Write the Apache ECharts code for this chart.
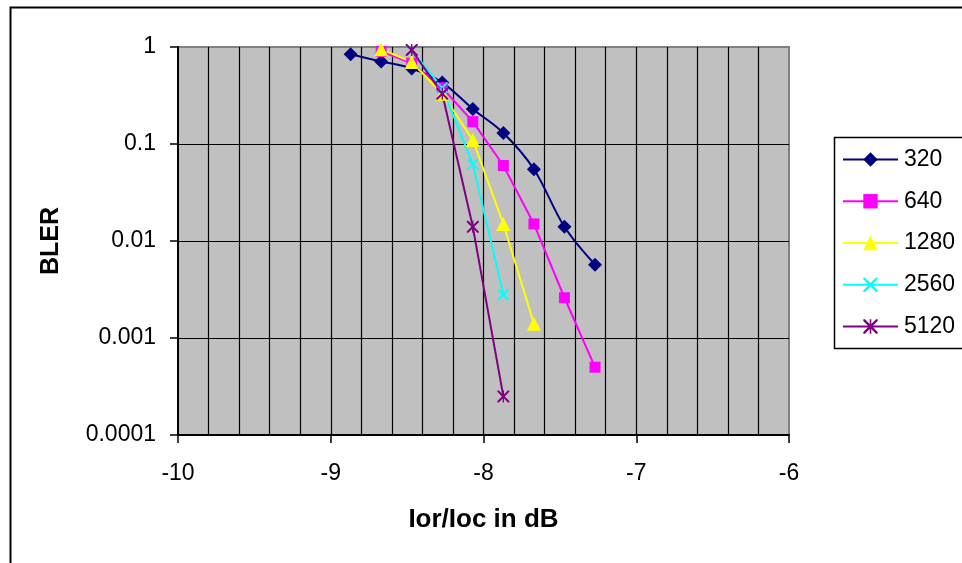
<!DOCTYPE html>
<html>
<head>
<meta charset="utf-8">
<script src="https://cdn.jsdelivr.net/npm/echarts@6/dist/echarts.min.js"></script>
<style>
html,body{margin:0;padding:0;background:#fff;}
#chart{width:962px;height:563px;}
</style>
</head>
<body>
<div id="chart"></div>
<script>
// ---- data ----
const seriesNames = ['320', '640', '1280', '2560', '5120'];
const x320  = [-8.87, -8.67, -8.47, -8.27, -8.07, -7.87, -7.67, -7.47, -7.27];
const y320  = [0.84, 0.71, 0.6, 0.43, 0.23, 0.13, 0.055, 0.014, 0.0057];
const x640  = [-8.67, -8.47, -8.27, -8.07, -7.87, -7.67, -7.47, -7.27];
const y640  = [0.9, 0.68, 0.38, 0.17, 0.06, 0.015, 0.0026, 0.0005];
const x1280 = [-8.67, -8.47, -8.27, -8.07, -7.87, -7.67];
const y1280 = [0.95, 0.7, 0.33, 0.11, 0.015, 0.0014];
const x2560 = [-8.47, -8.27, -8.07, -7.87];
const y2560 = [0.93, 0.38, 0.062, 0.0028];
const x5120 = [-8.47, -8.27, -8.07, -7.87];
const y5120 = [0.93, 0.33, 0.014, 0.00025];
const yTickLabels = ['0.0001', '0.001', '0.01', '0.1', '1'];
const xAxisTitle = 'Ior/Ioc in dB';
const yAxisTitle = 'BLER';

const pairs = (xs, ys) => xs.map((x, i) => [x, ys[i]]);

const FONT = 'Liberation Sans, Arial, sans-serif';
const X_PATH = 'path://M0,0 L1.2,0 L5,3.8 L8.8,0 L10,0 L10,1.2 L6.2,5 L10,8.8 L10,10 L8.8,10 L5,6.2 L1.2,10 L0,10 L0,8.8 L3.8,5 L0,1.2 Z';
const STAR_PATH = 'path://M0,0 L1.2,0 L4.45,3.25 L4.45,0 L5.55,0 L5.55,3.25 L8.8,0 L10,0 L10,1.2 L6.2,5 L10,8.8 L10,10 L8.8,10 L5.55,6.75 L5.55,10 L4.45,10 L4.45,6.75 L1.2,10 L0,10 L0,8.8 L3.8,5 L0,1.2 Z';

function mk(name, data, color, symbol, size, smooth) {
  return {
    name: name, type: 'line', data: data, smooth: smooth || false,
    symbol: symbol, symbolSize: size, showSymbol: true,
    lineStyle: { color: color, width: 2 },
    itemStyle: { color: color, borderColor: color, borderWidth: 0 },
    emphasis: { disabled: true }, animation: false
  };
}

const chart = echarts.init(document.getElementById('chart'), null, { renderer: 'canvas' });
chart.setOption({
  backgroundColor: '#ffffff',
  animation: false,
  textStyle: { fontFamily: FONT },
  grid: {
    left: 178, top: 47, right: 173, bottom: 128,
    show: true, backgroundColor: '#C0C0C0', borderColor: '#808080', borderWidth: 2
  },
  xAxis: {
    type: 'value', min: -10, max: -6, interval: 1,
    axisLine: { show: true, onZero: false, lineStyle: { color: '#000', width: 2 } },
    axisTick: { show: true, inside: false, length: 8, lineStyle: { color: '#000', width: 1.5 } },
    axisLabel: { color: '#000', fontSize: 23, fontFamily: FONT, margin: 27 },
    splitLine: { show: true, showMinLine: false, showMaxLine: false, lineStyle: { color: '#000', width: 1.2 } },
    minorTick: { show: true, splitNumber: 5, length: 0 },
    minorSplitLine: { show: true, lineStyle: { color: '#000', width: 1.2 } },
    name: xAxisTitle, nameLocation: 'middle', nameGap: 72,
    nameTextStyle: { color: '#000', fontSize: 26, fontWeight: 'bold', fontFamily: FONT }
  },
  yAxis: {
    type: 'log', logBase: 10, min: 0.0001, max: 1,
    axisLine: { show: true, onZero: false, lineStyle: { color: '#000', width: 2 } },
    axisTick: { show: true, inside: false, length: 8, lineStyle: { color: '#000', width: 1.5 } },
    axisLabel: {
      color: '#000', fontSize: 23, fontFamily: FONT, margin: 22,
      formatter: function (v) { return yTickLabels[Math.round(Math.log10(v)) + 4]; }
    },
    splitLine: { show: true, showMinLine: false, showMaxLine: false, lineStyle: { color: '#000', width: 1.2 } },
    name: yAxisTitle, nameLocation: 'middle', nameGap: 114, nameRotate: 90,
    nameTextStyle: { color: '#000', fontSize: 25, fontWeight: 'bold', fontFamily: FONT }
  },
  legend: {
    orient: 'vertical', left: 842, top: 148, padding: 0,
    itemWidth: 55, itemHeight: 18, itemGap: 18.75,
    data: seriesNames,
    textStyle: { color: '#000', fontSize: 23, fontFamily: FONT, lineHeight: 18, padding: [0, 0, 0, 1] },
    selectedMode: false
  },
  graphic: [
    { type: 'rect', left: 8, top: 5, shape: { width: 1000, height: 620 }, silent: true, z: 100,
      style: { fill: 'none', stroke: '#000', lineWidth: 2 } },
    { type: 'rect', left: 832, top: 135, shape: { width: 200, height: 211 }, silent: true, z: 100,
      style: { fill: 'none', stroke: '#000', lineWidth: 1.5 } }
  ],
  series: [
    mk(seriesNames[0], pairs(x320, y320), '#000080', 'diamond', 14, 0.35),
    mk(seriesNames[1], pairs(x640, y640), '#FF00FF', 'rect', 11),
    mk(seriesNames[2], pairs(x1280, y1280), '#FFFF00', 'triangle', 14),
    mk(seriesNames[3], pairs(x2560, y2560), '#00FFFF', X_PATH, 11),
    mk(seriesNames[4], pairs(x5120, y5120), '#800080', STAR_PATH, 12)
  ]
});
</script>
</body>
</html>
